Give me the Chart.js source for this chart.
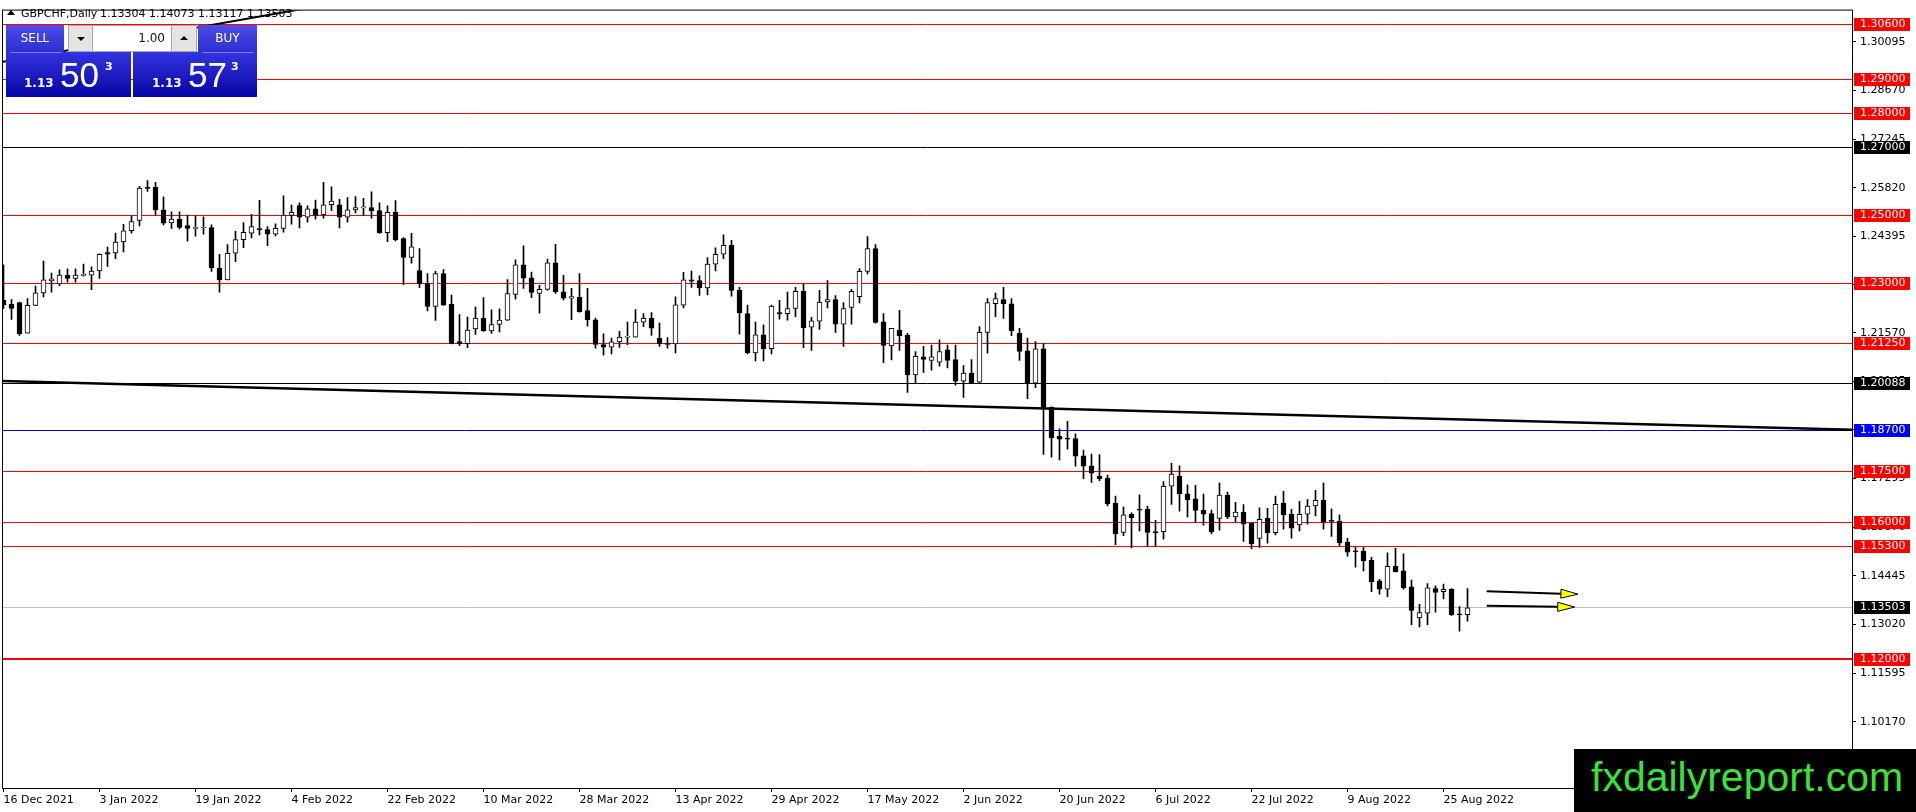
<!DOCTYPE html>
<html>
<head>
<meta charset="utf-8">
<title>GBPCHF Daily</title>
<script src="https://cdn.jsdelivr.net/npm/chart.js@4.4.1/dist/chart.umd.min.js"></script>
<style>
  html, body { margin: 0; padding: 0; background: #fff; overflow: hidden; }
  #wrap { position: relative; width: 1916px; height: 812px; }
  #c { position: absolute; left: 0; top: 0; }
  .abs { position: absolute; white-space: pre; box-sizing: border-box; }
  .hdr { top: 7px; font: 11px/13px 'DejaVu Sans'; color: #000; }
  .tri { left: 7px; top: 10px; width: 0; height: 0; border-left: 4px solid transparent; border-right: 4px solid transparent; border-bottom: 5px solid #000; }
  .btn { top: 25px; height: 27px; font: 12px/27px 'DejaVu Sans'; text-align: center; color: #fff; background: linear-gradient(#4d4de8, #2d2dd3); }
  .spin { top: 25px; width: 26px; height: 27px; background: #e4e4e4; border: 1px solid #a9a9a9; }
  .spin i { position: absolute; left: 8px; width: 0; height: 0; border-left: 4px solid transparent; border-right: 4px solid transparent; }
  .spin .dn { top: 11px; border-top: 4px solid #000; }
  .spin .up { top: 10px; border-bottom: 4px solid #000; }
  .lot { left: 93px; top: 25px; width: 78px; height: 27px; background: #fff; border-top: 1px solid #a9a9a9; border-bottom: 1px solid #a9a9a9; text-align: right; padding-right: 6px; font: 12px/25px 'DejaVu Sans'; color: #111; }
  .quote { top: 52px; height: 45px; background: linear-gradient(#3434e0, #0606a4); }
  .sep { top: 52px; height: 1px; background: #7c7cf0; }
  .qs { top: 77px; font: bold 12px/12px 'DejaVu Sans'; color: #fff; }
  .qb { top: 57px; font: 35px/35px 'Liberation Sans'; color: #fff; }
  .qp { top: 61px; font: bold 11px/11px 'DejaVu Sans'; color: #fff; }
  .wm { left: 1574px; top: 749px; width: 342px; height: 63px; background: #000; overflow: hidden; }
  .wm span { position: absolute; left: 17px; top: 8px; font: 41px/41px 'Liberation Sans'; color: #3ae23a; white-space: nowrap; }
</style>
</head>
<body>
<div id="wrap">
  <canvas id="c" width="1916" height="812"></canvas>

  <div class="abs tri"></div>
  <div class="abs hdr" style="left:21px">GBPCHF,Daily</div>
  <div class="abs hdr" id="ohlc" style="left:100px"></div>

  <div class="abs btn" style="left:6px;width:58px">SELL</div>
  <div class="abs spin" style="left:68px;width:25px"><i class="dn"></i></div>
  <div class="abs lot">1.00</div>
  <div class="abs spin" style="left:171px"><i class="up"></i></div>
  <div class="abs btn" style="left:198px;width:59px">BUY</div>
  <div class="abs quote" style="left:6px;width:125px"></div>
  <div class="abs quote" style="left:133px;width:124px"></div>
  <div class="abs sep" style="left:10px;width:52px"></div>
  <div class="abs sep" style="left:202px;width:52px"></div>
  <span class="abs qs" style="left:24px">1.13</span>
  <span class="abs qb" style="left:60px">50</span>
  <span class="abs qp" style="left:105px">3</span>
  <span class="abs qs" style="left:152px">1.13</span>
  <span class="abs qb" style="left:188px">57</span>
  <span class="abs qp" style="left:231px">3</span>

  <div class="abs wm"><span>fxdailyreport.com</span></div>
</div>

<script>
'use strict';

/* DAILY BARS (bar index 0 = 16 Dec 2021) */
const opens = [
  1.2252,1.2240,1.2245,1.2156,1.2237,1.2274,1.2309,1.2300,1.2326,1.2316,
  1.2325,1.2326,1.2338,1.2392,1.2391,1.2423,1.2456,1.2486,1.2583,1.2584,
  1.2517,1.2479,1.2490,1.2471,1.2463,1.2464,1.2465,1.2346,1.2312,1.2390,
  1.2430,1.2449,1.2461,1.2459,1.2446,1.2463,1.2501,1.2530,1.2496,1.2520,
  1.2503,1.2532,1.2532,1.2496,1.2517,1.2523,1.2524,1.2515,1.2450,1.2510,
  1.2433,1.2378,1.2339,1.2301,1.2234,1.2330,1.2241,1.2131,1.2125,1.2168,
  1.2200,1.2162,1.2181,1.2194,1.2269,1.2356,1.2318,1.2272,1.2284,1.2362,
  1.2277,1.2258,1.2261,1.2222,1.2195,1.2122,1.2115,1.2130,1.2144,1.2144,
  1.2188,1.2199,1.2141,1.2124,1.2124,1.2238,1.2312,1.2310,1.2288,1.2358,
  1.2387,1.2413,1.2281,1.2213,1.2098,1.2151,1.2110,1.2216,1.2213,1.2228,
  1.2278,1.2173,1.2191,1.2247,1.2254,1.2182,1.2231,1.2263,1.2337,1.2404,
  1.2189,1.2118,1.2165,1.2150,1.2033,1.2086,1.2076,1.2071,1.2107,1.2078,
  1.2015,1.2039,1.2012,1.2158,1.2242,1.2254,1.2242,1.2155,1.2104,1.2009,
  1.2110,1.1938,1.1853,1.1846,1.1847,1.1796,1.1767,1.1736,1.1731,1.1657,
  1.1572,1.1625,1.1640,1.1640,1.1574,1.1574,1.1707,1.1736,1.1685,1.1670,
  1.1637,1.1627,1.1613,1.1681,1.1617,1.1631,1.1598,1.1554,1.1613,1.1571,
  1.1658,1.1625,1.1594,1.1625,1.1649,1.1666,1.1605,1.1605,1.1543,1.1516,
  1.1517,1.1490,1.1430,1.1405,1.1472,1.1459,1.1412,1.1321,1.1335,1.1407,
  1.1398,1.1405,1.1333,1.13304
];
const highs = [
  1.2356,1.2254,1.2247,1.2257,1.2294,1.2367,1.2332,1.2341,1.2344,1.2344,
  1.2358,1.2350,1.2388,1.2408,1.2449,1.2475,1.2499,1.2586,1.2603,1.2598,
  1.2555,1.2511,1.2511,1.2502,1.2500,1.2497,1.2473,1.2387,1.2415,1.2454,
  1.2480,1.2504,1.2545,1.2468,1.2476,1.2558,1.2531,1.2538,1.2529,1.2546,
  1.2598,1.2585,1.2548,1.2553,1.2556,1.2551,1.2570,1.2538,1.2529,1.2544,
  1.2436,1.2448,1.2404,1.2330,1.2337,1.2342,1.2267,1.2210,1.2203,1.2232,
  1.2260,1.2224,1.2227,1.2313,1.2371,1.2412,1.2335,1.2296,1.2373,1.2416,
  1.2325,1.2287,1.2330,1.2287,1.2200,1.2154,1.2141,1.2161,1.2188,1.2225,
  1.2213,1.2216,1.2185,1.2143,1.2262,1.2334,1.2338,1.2324,1.2377,1.2406,
  1.2444,1.2428,1.2290,1.2238,1.2188,1.2180,1.2238,1.2252,1.2276,1.2290,
  1.2300,1.2202,1.2281,1.2310,1.2266,1.2245,1.2284,1.2345,1.2439,1.2415,
  1.2213,1.2170,1.2223,1.2155,1.2102,1.2117,1.2121,1.2136,1.2121,1.2121,
  1.2061,1.2078,1.2175,1.2257,1.2273,1.2290,1.2257,1.2170,1.2141,1.2131,
  1.2126,1.1940,1.1875,1.1897,1.1861,1.1813,1.1801,1.1800,1.1740,1.1678,
  1.1646,1.1629,1.1682,1.1649,1.1607,1.1721,1.1774,1.1767,1.1711,1.1710,
  1.1684,1.1637,1.1716,1.1690,1.1660,1.1653,1.1600,1.1644,1.1642,1.1678,
  1.1692,1.1639,1.1663,1.1668,1.1695,1.1716,1.1641,1.1623,1.1554,1.1528,
  1.1528,1.1499,1.1434,1.1512,1.1525,1.1509,1.1432,1.1361,1.1422,1.1415,
  1.1420,1.1407,1.1354,1.14073
];
const lows = [
  1.2228,1.2196,1.2149,1.2156,1.2236,1.2262,1.2276,1.2295,1.2305,1.2305,
  1.2323,1.2283,1.2316,1.2351,1.2374,1.2394,1.2449,1.2470,1.2571,1.2502,
  1.2473,1.2463,1.2461,1.2425,1.2440,1.2446,1.2337,1.2276,1.2312,1.2365,
  1.2406,1.2435,1.2444,1.2412,1.2441,1.2452,1.2475,1.2464,1.2481,1.2490,
  1.2493,1.2515,1.2464,1.2481,1.2508,1.2500,1.2493,1.2448,1.2424,1.2426,
  1.2298,1.2361,1.2289,1.2221,1.2193,1.2237,1.2124,1.2119,1.2113,1.2152,
  1.2161,1.2155,1.2159,1.2193,1.2255,1.2287,1.2260,1.2214,1.2282,1.2272,
  1.2253,1.2195,1.2217,1.2176,1.2112,1.2091,1.2095,1.2114,1.2122,1.2144,
  1.2175,1.2149,1.2117,1.2112,1.2098,1.2230,1.2290,1.2266,1.2268,1.2338,
  1.2374,1.2264,1.2153,1.2095,1.2074,1.2074,1.2095,1.2197,1.2194,1.2204,
  1.2113,1.2105,1.2167,1.2230,1.2158,1.2117,1.2182,1.2244,1.2329,1.2185,
  1.2069,1.2077,1.2105,1.1982,1.2009,1.2041,1.2047,1.2059,1.2054,1.2003,
  1.1967,1.2009,1.2009,1.2097,1.2204,1.2199,1.2148,1.2076,1.1964,1.1996,
  1.1800,1.1792,1.1784,1.1816,1.1766,1.1729,1.1718,1.1723,1.1649,1.1536,
  1.1562,1.1526,1.1576,1.1530,1.1530,1.1552,1.1654,1.1634,1.1617,1.1600,
  1.1593,1.1567,1.1578,1.1612,1.1603,1.1545,1.1523,1.1528,1.1540,1.1564,
  1.1581,1.1555,1.1576,1.1596,1.1620,1.1581,1.1560,1.1533,1.1502,1.1470,
  1.1459,1.1398,1.1391,1.1383,1.1456,1.1405,1.1301,1.1295,1.1301,1.1338,
  1.1377,1.1328,1.1282,1.13117
];
const closes = [
  1.2239,1.2228,1.2154,1.2237,1.2274,1.2312,1.2315,1.2326,1.2316,1.2326,
  1.2327,1.2338,1.2387,1.2387,1.2423,1.2456,1.2483,1.2581,1.2580,1.2517,
  1.2478,1.2490,1.2466,1.2463,1.2464,1.2465,1.2348,1.2312,1.2390,1.2430,
  1.2451,1.2468,1.2459,1.2446,1.2463,1.2502,1.2510,1.2496,1.2520,1.2501,
  1.2532,1.2543,1.2496,1.2517,1.2524,1.2525,1.2514,1.2450,1.2510,1.2429,
  1.2378,1.2409,1.2301,1.2234,1.2330,1.2238,1.2125,1.2125,1.2165,1.2200,
  1.2162,1.2181,1.2194,1.2272,1.2356,1.2317,1.2275,1.2284,1.2362,1.2277,
  1.2258,1.2263,1.2219,1.2195,1.2123,1.2115,1.2130,1.2144,1.2146,1.2188,
  1.2199,1.2170,1.2124,1.2123,1.2239,1.2312,1.2308,1.2288,1.2358,1.2387,
  1.2413,1.2281,1.2215,1.2098,1.2151,1.2110,1.2235,1.2212,1.2228,1.2278,
  1.2172,1.2192,1.2247,1.2254,1.2182,1.2228,1.2278,1.2337,1.2404,1.2187,
  1.2120,1.2170,1.2148,1.2033,1.2088,1.2079,1.2086,1.2102,1.2076,1.2015,
  1.2039,1.2009,1.2158,1.2245,1.2257,1.2242,1.2163,1.2102,1.2009,1.2110,
  1.1938,1.1849,1.1845,1.1845,1.1795,1.1766,1.1745,1.1729,1.1655,1.1567,
  1.1623,1.1615,1.1637,1.1572,1.1570,1.1707,1.1743,1.1685,1.1668,1.1636,
  1.1625,1.1574,1.1681,1.1617,1.1631,1.1596,1.1538,1.1610,1.1571,1.1654,
  1.1623,1.1584,1.1625,1.1649,1.1666,1.1603,1.1604,1.1541,1.1514,1.1515,
  1.1488,1.1427,1.1405,1.1472,1.1456,1.1409,1.1343,1.1337,1.1409,1.1396,
  1.1405,1.1330,1.1330,1.13503
];

/* AXES */
const dateLabels = ['16 Dec 2021','3 Jan 2022','19 Jan 2022','4 Feb 2022','22 Feb 2022','10 Mar 2022','28 Mar 2022','13 Apr 2022',
  '29 Apr 2022','17 May 2022','2 Jun 2022','20 Jun 2022','6 Jul 2022','22 Jul 2022','9 Aug 2022','25 Aug 2022'];
const dateTickBars = [0,12,24,36,48,60,72,84,96,108,120,132,144,156,168,180];
const priceTicks = [1.30095,1.28670,1.27245,1.25820,1.24395,1.22970,1.21570,1.20145,1.18720,1.17295,1.15870,1.14445,1.13020,1.11595,1.10170];
const barRange = [-0.0625, 231.0625];
const priceRange = [1.08225, 1.31012];

/* OBJECTS ON CHART */
const redLevels = [1.30600,1.29000,1.28000,1.25000,1.23000,1.21250,1.17500,1.16000,1.15300];
const keyLevels = [1.12000];
const blackLevels = [1.27000,1.20088];
const blueLevels = [1.18700];
const bidPrice = 1.13503;
const trendBars = [-0.44, 231.06];
const trendPrices = [1.20156, 1.18728];
const steepBars = [-0.44, 40];
const steepPrices = [1.29494, 1.31169];
const arrowBars = [[185.4, 196.8], [185.4, 196.4]];
const arrowPrices = [[1.13993, 1.13906], [1.13567, 1.13529]];

document.getElementById('ohlc').textContent =
  [opens, highs, lows, closes].map(a => a[a.length - 1].toFixed(5)).join(' ');

const FONT = "'DejaVu Sans'";
const bodies = opens.map((o, i) => ({ x: i, y: [o, closes[i]] }));
const wicks = lows.map((l, i) => ({ x: i, y: [l, highs[i]] }));
const bodyColors = opens.map((o, i) => closes[i] > o ? '#fff' : '#000');

function crispY(scale, v) { return Math.floor(scale.getPixelForValue(v)); }

/* horizontal levels under the candles, price boxes on the axis, arrows, frame */
const mt4Objects = {
  id: 'mt4Objects',
  beforeDatasetsDraw(chart) {
    const { ctx, chartArea: a, scales: { y } } = chart;
    ctx.save();
    const hline = (v, color, w) => {
      const py = crispY(y, v);
      ctx.strokeStyle = color; ctx.lineWidth = w;
      ctx.beginPath();
      const off = w % 2 ? 0.5 : 0;
      ctx.moveTo(a.left, py + off); ctx.lineTo(a.right, py + off);
      ctx.stroke();
    };
    hline(bidPrice, '#c0c0c0', 1);
    redLevels.forEach(v => hline(v, '#ff0000', 1));
    keyLevels.forEach(v => hline(v, '#ff0000', 2));
    blackLevels.forEach(v => hline(v, '#000', 1));
    blueLevels.forEach(v => hline(v, '#0000e0', 1));
    ctx.restore();
  },
  afterDatasetsDraw(chart) {
    const { ctx, scales: { x, y } } = chart;
    ctx.save();
    arrowBars.forEach((bars, k) => {
      const x0 = x.getPixelForValue(bars[0]), x1 = x.getPixelForValue(bars[1]);
      const y0 = y.getPixelForValue(arrowPrices[k][0]), y1 = y.getPixelForValue(arrowPrices[k][1]);
      const ang = Math.atan2(y1 - y0, x1 - x0);
      const len = 17, half = 4.5;
      const bx = x1 - len * Math.cos(ang), by = y1 - len * Math.sin(ang);
      ctx.strokeStyle = '#000'; ctx.lineWidth = 2;
      ctx.beginPath(); ctx.moveTo(x0, y0); ctx.lineTo(bx, by); ctx.stroke();
      ctx.beginPath();
      ctx.moveTo(x1, y1);
      ctx.lineTo(bx + half * Math.sin(ang), by - half * Math.cos(ang));
      ctx.lineTo(bx - half * Math.sin(ang), by + half * Math.cos(ang));
      ctx.closePath();
      ctx.fillStyle = '#ffff00'; ctx.fill();
      ctx.lineWidth = 1; ctx.stroke();
    });
    ctx.restore();
  },
  afterDraw(chart) {
    const { ctx, chartArea: a, scales: { y } } = chart;
    ctx.save();
    ctx.strokeStyle = '#000'; ctx.lineWidth = 1;
    ctx.strokeRect(a.left - 0.5, a.top - 0.5, a.right - a.left + 1, a.bottom - a.top + 1);
    const box = (v, color) => {
      const py = crispY(y, v);
      ctx.fillStyle = color;
      ctx.fillRect(a.right + 2, py - 6, 56, 13);
      ctx.fillStyle = '#fff';
      ctx.font = '11px ' + FONT;
      ctx.textBaseline = 'middle';
      ctx.textAlign = 'left';
      ctx.fillText(v.toFixed(5), a.right + 8, py + 0.5);
    };
    redLevels.forEach(v => box(v, '#ff0000'));
    keyLevels.forEach(v => box(v, '#ff0000'));
    blackLevels.forEach(v => box(v, '#000'));
    blueLevels.forEach(v => box(v, '#0000ff'));
    box(bidPrice, '#000');
    ctx.restore();
  }
};

new Chart(document.getElementById('c'), {
  type: 'bar',
  data: {
    datasets: [
      { label: 'body', data: bodies, backgroundColor: bodyColors, borderColor: '#000', borderWidth: 1,
        borderSkipped: false, barThickness: 5, grouped: false, minBarLength: 1, order: 1 },
      { label: 'wick', data: wicks, backgroundColor: '#000', borderWidth: 0,
        barThickness: 1, grouped: false, order: 2 },
      { type: 'line', label: 'trend', data: trendBars.map((b, i) => ({ x: b, y: trendPrices[i] })),
        borderColor: '#000', borderWidth: 2.5, pointRadius: 0, clip: 0, order: 3 },
      { type: 'line', label: 'steep', data: steepBars.map((b, i) => ({ x: b, y: steepPrices[i] })),
        borderColor: '#000', borderWidth: 2, pointRadius: 0, clip: 0, order: 3 }
    ]
  },
  options: {
    responsive: false,
    animation: false,
    events: [],
    layout: { padding: { left: 3, top: 3, right: 0, bottom: 0 } },
    plugins: { legend: { display: false }, tooltip: { enabled: false } },
    scales: {
      x: {
        type: 'linear', min: barRange[0], max: barRange[1], offset: false,
        grid: { drawOnChartArea: false, drawTicks: true, tickLength: 4, color: '#000', offset: false },
        border: { display: false },
        ticks: {
          autoSkip: false, maxRotation: 0, minRotation: 0, align: 'start', padding: 2, color: '#000',
          font: { family: FONT, size: 11 },
          callback: v => { const k = dateTickBars.indexOf(v); return k < 0 ? '' : dateLabels[k]; }
        },
        afterBuildTicks: s => { s.ticks = dateTickBars.map(v => ({ value: v })); },
        afterFit: s => { s.height = 24; }
      },
      y: {
        type: 'linear', position: 'right', min: priceRange[0], max: priceRange[1], beginAtZero: false,
        grid: { drawOnChartArea: false, drawTicks: true, tickLength: 4, color: '#000' },
        border: { display: false },
        ticks: {
          autoSkip: false, padding: 4, color: '#000',
          font: { family: FONT, size: 11 },
          callback: v => v.toFixed(5)
        },
        afterBuildTicks: s => { s.ticks = priceTicks.map(v => ({ value: v })); },
        afterFit: s => { s.width = 64; }
      }
    }
  },
  plugins: [mt4Objects]
});
</script>
</body>
</html>
